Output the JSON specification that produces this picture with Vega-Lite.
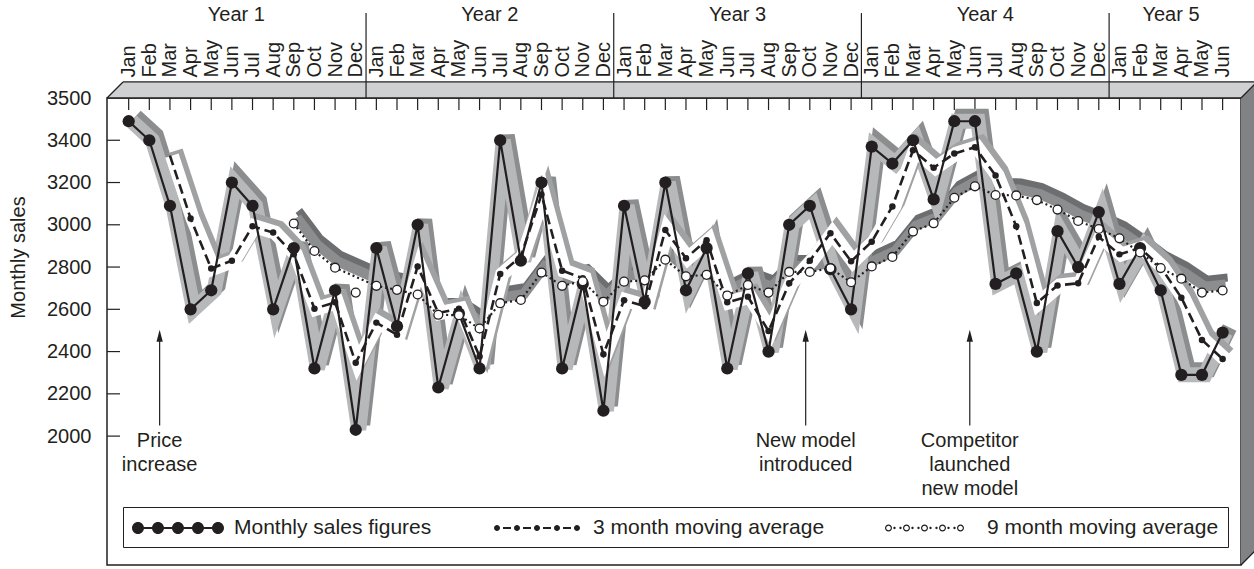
{
  "$schema": "https://vega.github.io/schema/vega-lite/v6.json",
  "width": 1134,
  "height": 467,
  "autosize": {"type": "none"},
  "padding": {"left": 107, "top": 98, "right": 13, "bottom": 4},
  "background": "white",
  "config": {
    "font": "Liberation Sans",
    "view": {"fill": "#e6e7e9", "stroke": "#231f20", "strokeWidth": 1.5},
    "axis": {"grid": false, "domain": false, "ticks": false, "labelFont": "Liberation Sans", "labelFontSize": 20, "labelColor": "#231f20", "labelOverlap": false, "labelFlush": false, "titleFont": "Liberation Sans", "titleFontSize": 20, "titleFontWeight": "normal", "titleColor": "#231f20"}
  },
  "resolve": {"axis": {"x": "independent", "y": "independent"}},
  "datasets": {
    "sales": [
      {"m":0,"sales":3490,"ma3":null,"ma9":null},
      {"m":1,"sales":3400,"ma3":null,"ma9":null},
      {"m":2,"sales":3090,"ma3":3327,"ma9":null},
      {"m":3,"sales":2600,"ma3":3030,"ma9":null},
      {"m":4,"sales":2690,"ma3":2793,"ma9":null},
      {"m":5,"sales":3200,"ma3":2830,"ma9":null},
      {"m":6,"sales":3090,"ma3":2993,"ma9":null},
      {"m":7,"sales":2600,"ma3":2963,"ma9":null},
      {"m":8,"sales":2890,"ma3":2860,"ma9":3006},
      {"m":9,"sales":2320,"ma3":2603,"ma9":2876},
      {"m":10,"sales":2690,"ma3":2633,"ma9":2797},
      {"m":11,"sales":2030,"ma3":2347,"ma9":2679},
      {"m":12,"sales":2890,"ma3":2537,"ma9":2711},
      {"m":13,"sales":2520,"ma3":2480,"ma9":2692},
      {"m":14,"sales":3000,"ma3":2803,"ma9":2670},
      {"m":15,"sales":2230,"ma3":2583,"ma9":2574},
      {"m":16,"sales":2580,"ma3":2603,"ma9":2572},
      {"m":17,"sales":2320,"ma3":2377,"ma9":2509},
      {"m":18,"sales":3400,"ma3":2767,"ma9":2629},
      {"m":19,"sales":2830,"ma3":2850,"ma9":2644},
      {"m":20,"sales":3200,"ma3":3143,"ma9":2774},
      {"m":21,"sales":2320,"ma3":2783,"ma9":2711},
      {"m":22,"sales":2720,"ma3":2747,"ma9":2733},
      {"m":23,"sales":2120,"ma3":2387,"ma9":2636},
      {"m":24,"sales":3090,"ma3":2643,"ma9":2731},
      {"m":25,"sales":2635,"ma3":2615,"ma9":2737},
      {"m":26,"sales":3200,"ma3":2975,"ma9":2835},
      {"m":27,"sales":2690,"ma3":2842,"ma9":2756},
      {"m":28,"sales":2890,"ma3":2927,"ma9":2763},
      {"m":29,"sales":2320,"ma3":2633,"ma9":2665},
      {"m":30,"sales":2770,"ma3":2660,"ma9":2715},
      {"m":31,"sales":2400,"ma3":2497,"ma9":2679},
      {"m":32,"sales":3000,"ma3":2723,"ma9":2777},
      {"m":33,"sales":3090,"ma3":2830,"ma9":2777},
      {"m":34,"sales":2790,"ma3":2960,"ma9":2794},
      {"m":35,"sales":2600,"ma3":2827,"ma9":2728},
      {"m":36,"sales":3370,"ma3":2920,"ma9":2803},
      {"m":37,"sales":3290,"ma3":3087,"ma9":2848},
      {"m":38,"sales":3400,"ma3":3353,"ma9":2968},
      {"m":39,"sales":3120,"ma3":3270,"ma9":3007},
      {"m":40,"sales":3490,"ma3":3337,"ma9":3128},
      {"m":41,"sales":3490,"ma3":3367,"ma9":3182},
      {"m":42,"sales":2720,"ma3":3233,"ma9":3141},
      {"m":43,"sales":2770,"ma3":2993,"ma9":3139},
      {"m":44,"sales":2400,"ma3":2630,"ma9":3117},
      {"m":45,"sales":2970,"ma3":2713,"ma9":3072},
      {"m":46,"sales":2800,"ma3":2723,"ma9":3018},
      {"m":47,"sales":3060,"ma3":2943,"ma9":2980},
      {"m":48,"sales":2720,"ma3":2860,"ma9":2936},
      {"m":49,"sales":2890,"ma3":2890,"ma9":2869},
      {"m":50,"sales":2690,"ma3":2800,"ma9":2795},
      {"m":51,"sales":2290,"ma3":2655,"ma9":2745},
      {"m":52,"sales":2290,"ma3":2455,"ma9":2679},
      {"m":53,"sales":2490,"ma3":2365,"ma9":2689}
    ],
    "yticks": [{"v":2000},{"v":2200},{"v":2400},{"v":2600},{"v":2800},{"v":3000},{"v":3200},{"v":3400}],
    "years": [
      {"year":"Year 1","mid":5.22,"end":11.5},
      {"year":"Year 2","mid":17.5,"end":23.5},
      {"year":"Year 3","mid":29.5,"end":35.5},
      {"year":"Year 4","mid":41.5,"end":47.5},
      {"year":"Year 5","mid":50.5,"end":null}
    ],
    "notes": [
      {"m":1.5,"note":["Price","increase"]},
      {"m":32.8,"note":["New model","introduced"]},
      {"m":40.75,"note":["Competitor","launched","new model"]}
    ],
    "series": [
      {"s":"Monthly sales figures"},
      {"s":"3 month moving average"},
      {"s":"9 month moving average"}
    ]
  },
  "layer": [
    {
      "data": {"name": "sales"},
      "transform": [{"filter": "datum.ma9 != null && datum.m != 11"}],
      "mark": {"type": "line", "stroke": "#6d6e70", "strokeWidth": 8, "xOffset": 5, "yOffset": -13, "strokeJoin": "miter", "strokeMiterLimit": 4, "strokeCap": "butt"},
      "encoding": {
        "x": {"field": "m", "type": "quantitative", "scale": {"domain": [-1.05, 53.89], "nice": false, "zero": false},
          "axis": {"orient": "top", "values": [0,1,2,3,4,5,6,7,8,9,10,11,12,13,14,15,16,17,18,19,20,21,22,23,24,25,26,27,28,29,30,31,32,33,34,35,36,37,38,39,40,41,42,43,44,45,46,47,48,49,50,51,52,53],
            "labelExpr": "['Jan','Feb','Mar','Apr','May','Jun','Jul','Aug','Sep','Oct','Nov','Dec'][datum.value % 12]",
            "labelAngle": -90, "labelAlign": "left", "labelBaseline": "middle", "labelPadding": 21, "labelOverlap": false, "labelFlush": false, "labelBound": false, "title": null}},
        "y": {"field": "ma9", "type": "quantitative", "scale": {"domain": [1390, 3600], "nice": false, "zero": false},
          "axis": {"orient": "left", "values": [2000,2200,2400,2600,2800,3000,3200,3400,3600],
            "labelExpr": "datum.value == 3600 ? '3500' : format(datum.value, 'd')",
            "labelAlign": "right", "labelBaseline": "middle", "labelPadding": 16, "labelOverlap": false, "labelFlush": false,
            "title": "Monthly sales", "titlePadding": 18, "titleY": 159}}
      }
    },
    {
      "data": {"values": [{}]},
      "mark": {"type": "rect", "fill": "#cfd0d2"},
      "encoding": {
        "x": {"datum": -0.275, "type": "quantitative", "axis": null},
        "x2": {"datum": 54.665},
        "y": {"datum": 3600, "type": "quantitative", "axis": null},
        "y2": {"datum": 3676}
      }
    },
    {
      "data": {"values": [{}]},
      "mark": {"type": "point", "shape": "M-1,1L1,-1L1,1Z", "size": 256, "filled": true, "fill": "#cfd0d2", "strokeWidth": 0, "opacity": 1},
      "encoding": {
        "x": {"datum": -0.6625, "type": "quantitative", "axis": null},
        "y": {"datum": 3638, "type": "quantitative", "axis": null}
      }
    },
    {
      "data": {"values": [{}]},
      "mark": {"type": "rect", "fill": "#808285"},
      "encoding": {
        "x": {"datum": 53.89, "type": "quantitative", "axis": null},
        "x2": {"datum": 54.665},
        "y": {"datum": 1466, "type": "quantitative", "axis": null},
        "y2": {"datum": 3600}
      }
    },
    {
      "data": {"values": [{}]},
      "mark": {"type": "point", "shape": "M-1,1L1,-1L1,1Z", "size": 256, "filled": true, "fill": "#808285", "strokeWidth": 0, "opacity": 1},
      "encoding": {
        "x": {"datum": 54.2775, "type": "quantitative", "axis": null},
        "y": {"datum": 3638, "type": "quantitative", "axis": null}
      }
    },
    {
      "data": {"values": [{}]},
      "mark": {"type": "point", "shape": "M-1,-1L1,-1L-1,1Z", "size": 256, "filled": true, "fill": "#808285", "strokeWidth": 0, "opacity": 1},
      "encoding": {
        "x": {"datum": 54.2775, "type": "quantitative", "axis": null},
        "y": {"datum": 1428, "type": "quantitative", "axis": null}
      }
    },
    {
      "data": {"values": [{}]},
      "mark": {"type": "rule", "stroke": "#231f20", "strokeWidth": 1.3},
      "encoding": {
        "x": {"datum": -1.05, "type": "quantitative", "axis": null},
        "x2": {"datum": -0.275},
        "y": {"datum": 3600, "type": "quantitative", "axis": null},
        "y2": {"datum": 3676}
      }
    },
    {
      "data": {"values": [{}]},
      "mark": {"type": "rule", "stroke": "#231f20", "strokeWidth": 1.3},
      "encoding": {
        "x": {"datum": -0.275, "type": "quantitative", "axis": null},
        "x2": {"datum": 54.665},
        "y": {"datum": 3676, "type": "quantitative", "axis": null}
      }
    },
    {
      "data": {"values": [{}]},
      "mark": {"type": "rule", "stroke": "#231f20", "strokeWidth": 1.5},
      "encoding": {
        "x": {"datum": -1.05, "type": "quantitative", "axis": null},
        "x2": {"datum": 53.89},
        "y": {"datum": 3600, "type": "quantitative", "axis": null}
      }
    },
    {
      "data": {"values": [{}]},
      "mark": {"type": "rule", "stroke": "#231f20", "strokeWidth": 1.3},
      "encoding": {
        "x": {"datum": 53.89, "type": "quantitative", "axis": null},
        "x2": {"datum": 54.665},
        "y": {"datum": 3600, "type": "quantitative", "axis": null},
        "y2": {"datum": 3676}
      }
    },
    {
      "data": {"values": [{}]},
      "mark": {"type": "rule", "stroke": "#231f20", "strokeWidth": 1.3},
      "encoding": {
        "x": {"datum": 53.89, "type": "quantitative", "axis": null},
        "x2": {"datum": 54.665},
        "y": {"datum": 1390, "type": "quantitative", "axis": null},
        "y2": {"datum": 1466}
      }
    },
    {
      "data": {"name": "sales"},
      "mark": {"type": "rule", "stroke": "#231f20", "strokeWidth": 1.2},
      "encoding": {
        "x": {"field": "m", "type": "quantitative", "axis": null},
        "y": {"datum": 3600, "type": "quantitative", "axis": null},
        "y2": {"datum": 3543}
      }
    },
    {
      "data": {"name": "yticks"},
      "mark": {"type": "rule", "stroke": "#231f20", "strokeWidth": 1.2},
      "encoding": {
        "x": {"datum": -1.05, "type": "quantitative", "axis": null},
        "x2": {"datum": -0.42},
        "y": {"field": "v", "type": "quantitative", "axis": null}
      }
    },
    {
      "data": {"name": "years"},
      "transform": [{"filter": "datum.end != null"}],
      "mark": {"type": "rule", "stroke": "#231f20", "strokeWidth": 1.2},
      "encoding": {
        "x": {"field": "end", "type": "quantitative", "axis": null},
        "y": {"datum": 3600, "type": "quantitative", "axis": null},
        "y2": {"datum": 4002}
      }
    },
    {
      "data": {"name": "years"},
      "mark": {"type": "text", "fontSize": 20, "color": "#231f20", "align": "center", "baseline": "middle"},
      "encoding": {
        "x": {"field": "mid", "type": "quantitative", "axis": null},
        "y": {"datum": 3994, "type": "quantitative", "axis": null},
        "text": {"field": "year"}
      }
    },
    {
      "data": {"name": "sales"},
      "transform": [{"filter": "datum.ma9 != null && datum.m != 11"}],
      "mark": {"type": "line", "stroke": "#8c8d8f", "strokeWidth": 10, "xOffset": 3, "yOffset": -6, "strokeJoin": "miter", "strokeMiterLimit": 4, "strokeCap": "butt"},
      "encoding": {
        "x": {"field": "m", "type": "quantitative", "axis": null},
        "y": {"field": "ma9", "type": "quantitative", "axis": null}
      }
    },
    {
      "data": {"name": "sales"},
      "mark": {"type": "line", "stroke": "#8c8d8f", "strokeWidth": 15, "xOffset": 7, "yOffset": -5, "strokeJoin": "miter", "strokeMiterLimit": 4, "strokeCap": "butt"},
      "encoding": {
        "x": {"field": "m", "type": "quantitative", "axis": null},
        "y": {"field": "sales", "type": "quantitative", "axis": null}
      }
    },
    {
      "data": {"name": "sales"},
      "mark": {"type": "line", "stroke": "#b7b8ba", "strokeWidth": 15, "xOffset": 3, "yOffset": 0, "strokeJoin": "miter", "strokeMiterLimit": 4, "strokeCap": "butt"},
      "encoding": {
        "x": {"field": "m", "type": "quantitative", "axis": null},
        "y": {"field": "sales", "type": "quantitative", "axis": null}
      }
    },
    {
      "data": {"name": "sales"},
      "transform": [{"filter": "datum.ma3 != null"}],
      "mark": {"type": "line", "stroke": "#a0a1a3", "strokeWidth": 14, "xOffset": 6, "yOffset": -5, "strokeJoin": "miter", "strokeMiterLimit": 4, "strokeCap": "butt"},
      "encoding": {
        "x": {"field": "m", "type": "quantitative", "axis": null},
        "y": {"field": "ma3", "type": "quantitative", "axis": null}
      }
    },
    {
      "data": {"name": "sales"},
      "transform": [{"filter": "datum.ma3 != null"}],
      "mark": {"type": "line", "stroke": "#ffffff", "strokeWidth": 14, "xOffset": 2, "yOffset": 0, "strokeJoin": "miter", "strokeMiterLimit": 4, "strokeCap": "butt"},
      "encoding": {
        "x": {"field": "m", "type": "quantitative", "axis": null},
        "y": {"field": "ma3", "type": "quantitative", "axis": null}
      }
    },
    {
      "data": {"name": "sales"},
      "transform": [{"filter": "datum.ma9 != null && datum.m != 11"}],
      "mark": {"type": "line", "stroke": "#231f20", "strokeWidth": 2.2, "strokeDash": [2, 3]},
      "encoding": {
        "x": {"field": "m", "type": "quantitative", "axis": null},
        "y": {"field": "ma9", "type": "quantitative", "axis": null}
      }
    },
    {
      "data": {"name": "sales"},
      "transform": [{"filter": "datum.ma3 != null"}],
      "mark": {"type": "line", "stroke": "#231f20", "strokeWidth": 2.6, "strokeDash": [10, 5]},
      "encoding": {
        "x": {"field": "m", "type": "quantitative", "axis": null},
        "y": {"field": "ma3", "type": "quantitative", "axis": null}
      }
    },
    {
      "data": {"name": "sales"},
      "mark": {"type": "line", "stroke": "#231f20", "strokeWidth": 2.2},
      "encoding": {
        "x": {"field": "m", "type": "quantitative", "axis": null},
        "y": {"field": "sales", "type": "quantitative", "axis": null}
      }
    },
    {
      "data": {"name": "sales"},
      "transform": [{"filter": "datum.ma3 != null && datum.m >= 3"}],
      "mark": {"type": "point", "filled": true, "fill": "#231f20", "strokeWidth": 0, "size": 42, "opacity": 1},
      "encoding": {
        "x": {"field": "m", "type": "quantitative", "axis": null},
        "y": {"field": "ma3", "type": "quantitative", "axis": null}
      }
    },
    {
      "data": {"name": "sales"},
      "mark": {"type": "point", "filled": true, "fill": "#231f20", "strokeWidth": 0, "size": 150, "opacity": 1},
      "encoding": {
        "x": {"field": "m", "type": "quantitative", "axis": null},
        "y": {"field": "sales", "type": "quantitative", "axis": null}
      }
    },
    {
      "data": {"name": "sales"},
      "transform": [{"filter": "datum.ma9 != null"}],
      "mark": {"type": "point", "filled": true, "fill": "#ffffff", "stroke": "#231f20", "strokeWidth": 1.3, "size": 78, "opacity": 1},
      "encoding": {
        "x": {"field": "m", "type": "quantitative", "axis": null},
        "y": {"field": "ma9", "type": "quantitative", "axis": null}
      }
    },
    {
      "data": {"name": "notes"},
      "mark": {"type": "rule", "stroke": "#231f20", "strokeWidth": 1.2},
      "encoding": {
        "x": {"field": "m", "type": "quantitative", "axis": null},
        "y": {"datum": 2050, "type": "quantitative", "axis": null},
        "y2": {"datum": 2470}
      }
    },
    {
      "data": {"name": "notes"},
      "mark": {"type": "point", "shape": "M0,-1L0.45,0.7L-0.45,0.7Z", "size": 196, "filled": true, "fill": "#231f20", "strokeWidth": 0, "opacity": 1},
      "encoding": {
        "x": {"field": "m", "type": "quantitative", "axis": null},
        "y": {"datum": 2470, "type": "quantitative", "axis": null}
      }
    },
    {
      "data": {"name": "notes"},
      "mark": {"type": "text", "fontSize": 20, "color": "#231f20", "align": "center", "baseline": "top", "lineHeight": 24},
      "encoding": {
        "x": {"field": "m", "type": "quantitative", "axis": null},
        "y": {"datum": 2024, "type": "quantitative", "axis": null},
        "text": {"field": "note"}
      }
    },
    {
      "data": {"name": "series"},
      "transform": [{"filter": "false"}],
      "mark": {"type": "point", "filled": true, "fill": "#231f20", "strokeWidth": 0, "opacity": 1},
      "encoding": {
        "shape": {"field": "s", "type": "nominal",
          "scale": {"domain": ["Monthly sales figures", "3 month moving average", "9 month moving average"],
            "range": [
              "M-0.5,-0.0833H6.1667V0.0833H-0.5Z M-1,0A0.5,0.5,0,1,1,0,0A0.5,0.5,0,1,1,-1,0Z M0.6667,0A0.5,0.5,0,1,1,1.6667,0A0.5,0.5,0,1,1,0.6667,0Z M2.3333,0A0.5,0.5,0,1,1,3.3333,0A0.5,0.5,0,1,1,2.3333,0Z M4,0A0.5,0.5,0,1,1,5,0A0.5,0.5,0,1,1,4,0Z M5.6667,0A0.5,0.5,0,1,1,6.6667,0A0.5,0.5,0,1,1,5.6667,0Z",
              "M-0.75,0A0.25,0.25,0,1,1,-0.25,0A0.25,0.25,0,1,1,-0.75,0Z M0.9167,0A0.25,0.25,0,1,1,1.4167,0A0.25,0.25,0,1,1,0.9167,0Z M2.5833,0A0.25,0.25,0,1,1,3.0833,0A0.25,0.25,0,1,1,2.5833,0Z M4.25,0A0.25,0.25,0,1,1,4.75,0A0.25,0.25,0,1,1,4.25,0Z M5.9167,0A0.25,0.25,0,1,1,6.4167,0A0.25,0.25,0,1,1,5.9167,0Z M0,-0.0833H0.6667V0.0833H0Z M1.6667,-0.0833H2.3333V0.0833H1.6667Z M3.3333,-0.0833H4V0.0833H3.3333Z M5,-0.0833H5.6667V0.0833H5Z",
              "M-1,0A0.2917,0.2917,0,1,1,-0.4166,0A0.2917,0.2917,0,1,1,-1,0Z M-0.9,0A0.1917,0.1917,0,1,0,-0.5166,0A0.1917,0.1917,0,1,0,-0.9,0Z M0.5,0A0.2917,0.2917,0,1,1,1.0834,0A0.2917,0.2917,0,1,1,0.5,0Z M0.6,0A0.1917,0.1917,0,1,0,0.9834,0A0.1917,0.1917,0,1,0,0.6,0Z M2,0A0.2917,0.2917,0,1,1,2.5834,0A0.2917,0.2917,0,1,1,2,0Z M2.1,0A0.1917,0.1917,0,1,0,2.4834,0A0.1917,0.1917,0,1,0,2.1,0Z M3.5,0A0.2917,0.2917,0,1,1,4.0834,0A0.2917,0.2917,0,1,1,3.5,0Z M3.6,0A0.1917,0.1917,0,1,0,3.9834,0A0.1917,0.1917,0,1,0,3.6,0Z M5,0A0.2917,0.2917,0,1,1,5.5834,0A0.2917,0.2917,0,1,1,5,0Z M5.1,0A0.1917,0.1917,0,1,0,5.4834,0A0.1917,0.1917,0,1,0,5.1,0Z M-0.3083,0A0.1,0.1,0,1,1,-0.1083,0A0.1,0.1,0,1,1,-0.3083,0Z M0.1917,0A0.1,0.1,0,1,1,0.3917,0A0.1,0.1,0,1,1,0.1917,0Z M1.1917,0A0.1,0.1,0,1,1,1.3917,0A0.1,0.1,0,1,1,1.1917,0Z M1.6917,0A0.1,0.1,0,1,1,1.8917,0A0.1,0.1,0,1,1,1.6917,0Z M2.6917,0A0.1,0.1,0,1,1,2.8917,0A0.1,0.1,0,1,1,2.6917,0Z M3.1917,0A0.1,0.1,0,1,1,3.3917,0A0.1,0.1,0,1,1,3.1917,0Z M4.1917,0A0.1,0.1,0,1,1,4.3917,0A0.1,0.1,0,1,1,4.1917,0Z M4.6917,0A0.1,0.1,0,1,1,4.8917,0A0.1,0.1,0,1,1,4.6917,0Z"
            ]},
          "legend": {"title": null, "orient": "none", "legendX": 16, "legendY": 409, "direction": "horizontal", "columns": 3, "columnPadding": 59, "padding": 9, "fillColor": "#ffffff", "strokeColor": "#231f20", "symbolSize": 576, "symbolStrokeWidth": 0, "symbolFillColor": "#231f20", "symbolOpacity": 1, "labelFontSize": 21, "labelFont": "Liberation Sans", "labelColor": "#231f20", "labelOffset": 78, "labelLimit": 0, "gridAlign": "each"}
        }
      }
    }
  ]
}
